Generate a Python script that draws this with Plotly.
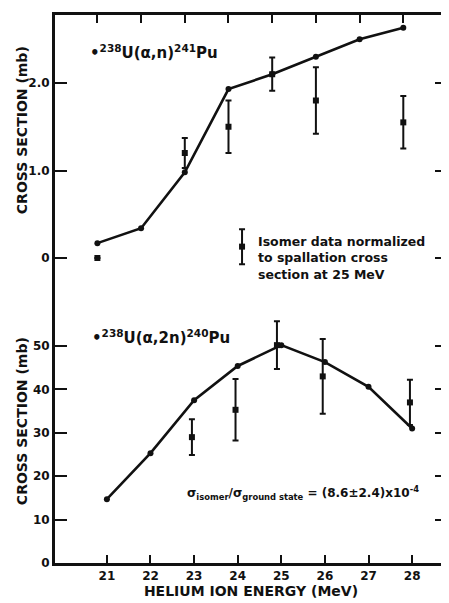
import plotly.graph_objects as go

# ---- data ----
energy = [21, 22, 23, 24, 25, 26, 27, 28]

# top panel: 238U(a,n)241Pu spallation cross section (mb)
an_sigma = [0.17, 0.34, 0.98, 1.93, 2.10, 2.30, 2.50, 2.63]
an_iso_E = [21, 23, 24, 25, 26, 28]
an_iso_sigma = [0.0, 1.20, 1.50, 2.10, 1.80, 1.55]
an_iso_err = [0.0, 0.17, 0.30, 0.19, 0.38, 0.30]

# bottom panel: 238U(a,2n)240Pu
a2n_sigma = [14.7, 25.3, 37.5, 45.4, 50.2, 46.3, 40.6, 31.0]
a2n_iso_E = [22.95, 23.95, 24.9, 25.95, 27.95]
a2n_iso_sigma = [29.0, 35.3, 50.2, 43.0, 37.0]
a2n_iso_err = [4.1, 7.1, 5.5, 8.6, 5.2]

# legend key (error-bar symbol)
key_E = [24.31]
key_sigma = [0.13]
key_err = [0.2]

y_top_ticks = [0, 1, 2]
y_top_labels = ["0", "1.0", "2.0"]
y_bot_ticks = [0, 10, 20, 30, 40, 50]
x_labels = [str(e) for e in energy]

FONT = "DejaVu Sans"
BLACK = "#111111"

fig = go.Figure()

# top panel
fig.add_trace(go.Scatter(x=energy, y=an_sigma, xaxis="x2", yaxis="y2", mode="lines+markers",
                         line=dict(color=BLACK, width=2.6),
                         marker=dict(symbol="circle", size=6, color=BLACK), showlegend=False))
fig.add_trace(go.Scatter(x=an_iso_E, y=an_iso_sigma, xaxis="x2", yaxis="y2", mode="markers",
                         marker=dict(symbol="square", size=6, color=BLACK),
                         error_y=dict(type="data", array=an_iso_err, color=BLACK, thickness=2, width=3),
                         showlegend=False))
fig.add_trace(go.Scatter(x=key_E, y=key_sigma, xaxis="x2", yaxis="y2", mode="markers",
                         marker=dict(symbol="square", size=6, color=BLACK),
                         error_y=dict(type="data", array=key_err, color=BLACK, thickness=2, width=3),
                         showlegend=False))

# bottom panel
fig.add_trace(go.Scatter(x=energy, y=a2n_sigma, xaxis="x", yaxis="y", mode="lines+markers",
                         line=dict(color=BLACK, width=2.6),
                         marker=dict(symbol="circle", size=6, color=BLACK), showlegend=False))
fig.add_trace(go.Scatter(x=a2n_iso_E, y=a2n_iso_sigma, xaxis="x", yaxis="y", mode="markers",
                         marker=dict(symbol="square", size=6, color=BLACK),
                         error_y=dict(type="data", array=a2n_iso_err, color=BLACK, thickness=2, width=3),
                         showlegend=False))

tickfont = dict(family=FONT, size=12, color=BLACK, weight="bold")

fig.update_layout(
    width=441, height=595,
    margin=dict(l=47, r=2, t=7, b=40),
    paper_bgcolor="white", plot_bgcolor="white",
    font=dict(family=FONT, color=BLACK),
    xaxis=dict(domain=[0, 1], anchor="y", range=[19.81, 28.80], tickvals=energy, ticktext=x_labels,
               showline=True, linecolor=BLACK, linewidth=3, ticks="inside", ticklen=8,
               tickwidth=2, tickcolor=BLACK, showgrid=False, zeroline=False, automargin=False,
               tickfont=tickfont,
               title=dict(text="HELIUM ION ENERGY (MeV)", font=dict(family=FONT, size=14, color=BLACK, weight="bold"),
                          standoff=2)),
    yaxis=dict(domain=[0, 0.4617], anchor="x", range=[0, 58.3], tickvals=y_bot_ticks,
               showline=True, linecolor=BLACK, linewidth=3, ticks="inside", ticklen=12,
               tickwidth=2, tickcolor=BLACK, mirror="ticks", showgrid=False, zeroline=False,
               automargin=False, tickfont=tickfont),
    xaxis2=dict(domain=[0, 1], anchor="y2", side="top", range=[20.03, 29.0], tickvals=energy,
                showticklabels=False, showline=True, linecolor=BLACK, linewidth=3, automargin=False,
                ticks="inside", ticklen=8, tickwidth=2, tickcolor=BLACK, showgrid=False, zeroline=False),
    yaxis2=dict(domain=[0.4617, 1], anchor="x2", range=[-0.594, 2.777], tickvals=y_top_ticks,
                ticktext=y_top_labels, showline=True, linecolor=BLACK, linewidth=3,
                ticks="inside", ticklen=12, tickwidth=2, tickcolor=BLACK, mirror="ticks",
                showgrid=False, zeroline=False, automargin=False, tickfont=tickfont),
)

# right border of top panel (down to the zero level)
fig.add_shape(type="line", xref="x2 domain", yref="y2", x0=1, x1=1, y0=-0.05, y1=2.777,
              line=dict(color=BLACK, width=2.5))

fig.add_annotation(x=20.79, y=2.35, xref="x2", yref="y2", xanchor="left", yanchor="middle",
                   text="•<sup>238</sup>U(α,n)<sup>241</sup>Pu", showarrow=False,
                   font=dict(family=FONT, size=15, color=BLACK, weight="bold"))
fig.add_annotation(x=24.63, y=0.0, xref="x2", yref="y2", xanchor="left", yanchor="middle", align="left",
                   text="Isomer data normalized<br>to spallation cross<br>section at 25 MeV",
                   showarrow=False, font=dict(family=FONT, size=12.5, color=BLACK, weight="bold"))
fig.add_annotation(x=20.61, y=52.1, xref="x", yref="y", xanchor="left", yanchor="middle",
                   text="•<sup>238</sup>U(α,2n)<sup>240</sup>Pu", showarrow=False,
                   font=dict(family=FONT, size=15, color=BLACK, weight="bold"))
fig.add_annotation(x=22.80, y=16.1, xref="x", yref="y", xanchor="left", yanchor="middle",
                   text="σ<sub>isomer</sub>/σ<sub>ground state</sub> = (8.6±2.4)x10<sup>-4</sup>",
                   showarrow=False, font=dict(family=FONT, size=12, color=BLACK, weight="bold"))

for yc in (0.79, 0.259):
    fig.add_annotation(x=-0.084, y=yc, xref="paper", yref="paper", xanchor="center", yanchor="middle",
                       text="CROSS SECTION (mb)", textangle=-90, showarrow=False,
                       font=dict(family=FONT, size=14, color=BLACK, weight="bold"))

fig.write_html("out.html")
